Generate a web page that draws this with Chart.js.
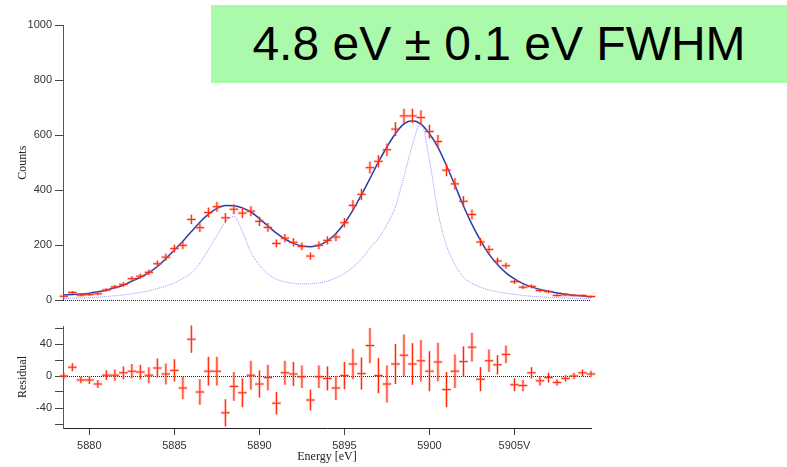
<!DOCTYPE html>
<html lang="en">
<head>
<meta charset="UTF-8">
<title>Energy spectrum fit</title>
<script src="https://cdn.jsdelivr.net/npm/chart.js"></script>
<style>
  body { margin: 0; background: #fff; }
  #wrap { position: relative; width: 787px; height: 467px; overflow: hidden; }
  canvas { position: absolute; left: 0; }
  #topChart { top: 0; }
  #resChart { top: 315px; }
  #fwhm {
    position: absolute; left: 211px; top: 5px; width: 576px; height: 78px;
    background: #abf9ab; color: #000; text-align: center;
    font: 48px "Liberation Sans", Arial, sans-serif; line-height: 78px;
  }
</style>
</head>
<body>
<div id="wrap">
  <canvas id="topChart" width="787" height="310"></canvas>
  <canvas id="resChart" width="787" height="152"></canvas>
  <div id="fwhm">4.8 eV ± 0.1 eV FWHM</div>
</div>

<script>
// bin centres (eV)
const energy = [
  5878.5, 5879.0, 5879.5, 5880.0, 5880.5, 5881.0, 5881.5, 5882.0, 5882.5, 5883.0,
  5883.5, 5884.0, 5884.5, 5885.0, 5885.5, 5886.0, 5886.5, 5887.0, 5887.5, 5888.0,
  5888.5, 5889.0, 5889.5, 5890.0, 5890.5, 5891.0, 5891.5, 5892.0, 5892.5, 5893.0,
  5893.5, 5894.0, 5894.5, 5895.0, 5895.5, 5896.0, 5896.5, 5897.0, 5897.5, 5898.0,
  5898.5, 5899.0, 5899.5, 5900.0, 5900.5, 5901.0, 5901.5, 5902.0, 5902.5, 5903.0,
  5903.5, 5904.0, 5904.5, 5905.0, 5905.5, 5906.0, 5906.5, 5907.0, 5907.5, 5908.0,
  5908.5, 5909.0, 5909.5
];
// measured counts
const counts = [
  15, 29, 19, 21, 24, 38, 49, 58, 79, 88,
  102, 133, 157, 188, 200, 294, 264, 319, 340, 300,
  331, 317, 324, 287, 265, 207, 226, 211, 196, 161,
  200, 218, 230, 282, 345, 385, 482, 505, 547, 622,
  670, 670, 664, 613, 577, 473, 423, 360, 312, 212,
  185, 143, 126, 68, 48, 51, 36, 32, 18, 20,
  18, 18, 14
];
// error bar half-heights (counts)
const errors = [
  4, 5, 4, 5, 5, 6, 7, 8, 9, 9,
  10, 12, 13, 14, 14, 17, 16, 18, 18, 17,
  18, 18, 18, 17, 16, 14, 15, 15, 14, 13,
  14, 15, 15, 17, 19, 20, 22, 22, 23, 25,
  26, 26, 26, 25, 24, 22, 21, 19, 18, 15,
  14, 12, 11, 8, 7, 7, 6, 6, 4, 4,
  4, 4, 4
];
// total fit
const fit = [
  20, 21, 23, 26, 31, 37, 46, 55, 70, 84,
  101, 123, 152, 183, 215, 250, 284, 313, 334, 345,
  344, 336, 321, 297, 270, 244, 223, 207, 198, 195,
  200, 216, 243, 280, 328, 383, 442, 503, 557, 606,
  641, 652, 640, 605, 556, 490, 418, 343, 276, 218,
  168, 130, 100, 78, 61, 49, 40, 33, 27, 23,
  19, 16, 13
];
// intrinsic line shape (dotted)
const intrinsic = [
  7, 8, 9, 10, 12, 14, 17, 20, 24, 29,
  35, 43, 52, 64, 80, 100, 135, 185, 235, 285,
  305, 250, 175, 128, 96, 77, 67, 62, 60, 61,
  64, 70, 82, 98, 120, 150, 190, 225, 275, 340,
  450, 565, 645, 510, 320, 200, 130, 85, 62, 48,
  38, 31, 26, 22, 18, 15, 13, 11, 10, 9,
  8, 7, 6
];
// residual = data - fit
const residuals = [
  0, 11, -5, -5, -10, 1, 1, 4, 6, 5,
  1, 10, 2.5, 7, -15, 46, -20, 6, 6, -46,
  -13, -21, 1, -10, -2, -34, 4, 2.5, -1, -30,
  -1, -3, -15, 0.5, 15, 3, 38, 0.5, -10, 15,
  26, 15, 19, 6, 17.5, -17, 6, 18, 36, -4,
  19, 14, 27, -11, -12, 4, -6, -2, -8, -3,
  0, 4, 2.5
];

const xTicks = [5880, 5885, 5890, 5895, 5900, 5905];
const xTickLabels = ['5880', '5885', '5890', '5895', '5900', '5905V'];
const resTicks = [-60, -40, -20, 0, 20, 40, 60];
const resLabelled = [-40, 0, 40];

const xMin = 5878.45, xMax = 5909.5;

Chart.defaults.font.family = '"Liberation Sans", Arial, sans-serif';
Chart.defaults.font.size = 11;
Chart.defaults.color = '#333';

// dotted zero line + red crosses drawn through the chart scales
const crosses = {
  id: 'crosses',
  beforeDatasetsDraw(chart) {
    const {ctx, chartArea, scales: {y}} = chart;
    const y0 = Math.round(y.getPixelForValue(0)) + 0.5;
    ctx.save();
    ctx.setLineDash([1, 1]);
    ctx.strokeStyle = '#222';
    ctx.lineWidth = 1;
    ctx.beginPath();
    ctx.moveTo(chartArea.left, y0);
    ctx.lineTo(chartArea.right, y0);
    ctx.stroke();
    ctx.restore();
  },
  afterDatasetsDraw(chart, args, opts) {
    const {ctx, scales: {x, y}} = chart;
    const vals = opts.values;
    ctx.save();
    [[3, 'rgba(255,120,100,0.4)'], [1, '#ff2200']].forEach(([w, c]) => {
      ctx.lineWidth = w;
      ctx.strokeStyle = c;
      ctx.beginPath();
      energy.forEach((e, i) => {
        const px = x.getPixelForValue(e);
        const py = y.getPixelForValue(vals[i]);
        ctx.moveTo(x.getPixelForValue(e - 0.25), py);
        ctx.lineTo(x.getPixelForValue(e + 0.25), py);
        ctx.moveTo(px, y.getPixelForValue(vals[i] + errors[i]));
        ctx.lineTo(px, y.getPixelForValue(vals[i] - errors[i]));
      });
      ctx.stroke();
    });
    ctx.restore();
  }
};

const pts = arr => energy.map((e, i) => ({x: e, y: arr[i]}));
const serif = {family: '"Liberation Serif", "Times New Roman", serif', size: 12};

new Chart(document.getElementById('topChart'), {
  type: 'line',
  data: {
    datasets: [
      {
        data: pts(intrinsic),
        borderColor: 'rgba(130,130,255,0.85)',
        borderWidth: 1,
        borderDash: [1, 1],
        pointRadius: 0,
        cubicInterpolationMode: 'monotone'
      },
      {
        data: pts(fit),
        borderColor: '#2a3aa8',
        borderWidth: 1.5,
        pointRadius: 0,
        cubicInterpolationMode: 'monotone'
      }
    ]
  },
  options: {
    responsive: false,
    animation: false,
    layout: {padding: {top: 25, right: 196, bottom: 5, left: 0}},
    plugins: {legend: {display: false}, tooltip: {enabled: false}, crosses: {values: counts}},
    scales: {
      x: {type: 'linear', display: false, min: xMin, max: xMax},
      y: {
        min: 0, max: 1000,
        ticks: {stepSize: 200, padding: 3, callback: v => String(v)},
        grid: {drawOnChartArea: false, tickLength: 8, tickColor: '#444'},
        border: {color: '#555'},
        title: {display: true, text: 'Counts', font: serif, color: '#222', padding: {top: 16, bottom: 0}},
        afterFit: s => { s.width = 63; }
      }
    }
  },
  plugins: [crosses]
});

new Chart(document.getElementById('resChart'), {
  type: 'line',
  data: {datasets: []},
  options: {
    responsive: false,
    animation: false,
    layout: {padding: {top: 11, right: 196, bottom: 0, left: 0}},
    plugins: {legend: {display: false}, tooltip: {enabled: false}, crosses: {values: residuals}},
    scales: {
      x: {
        type: 'linear', min: xMin, max: xMax,
        afterBuildTicks: s => { s.ticks = xTicks.map(v => ({value: v})); },
        ticks: {autoSkip: false, maxRotation: 0, padding: 4,
          callback: v => xTickLabels[xTicks.indexOf(v)]},
        grid: {drawOnChartArea: false, tickLength: 7, tickColor: '#444'},
        border: {color: '#222'},
        title: {display: true, text: 'Energy [eV]', font: serif, color: '#222', padding: {top: 0, bottom: 3}},
        afterFit: s => { s.height = 39; }
      },
      y: {
        min: -65, max: 62.5,
        afterBuildTicks: s => { s.ticks = resTicks.map(v => ({value: v})); },
        ticks: {autoSkip: false, padding: 3,
          callback: v => resLabelled.includes(v) ? String(v) : ''},
        grid: {drawOnChartArea: false, tickLength: 8, tickColor: '#444'},
        border: {color: '#555'},
        title: {display: true, text: 'Residual', font: serif, color: '#222', padding: {top: 16, bottom: 0}},
        afterFit: s => { s.width = 63; }
      }
    }
  },
  plugins: [crosses]
});
</script>
</body>
</html>
